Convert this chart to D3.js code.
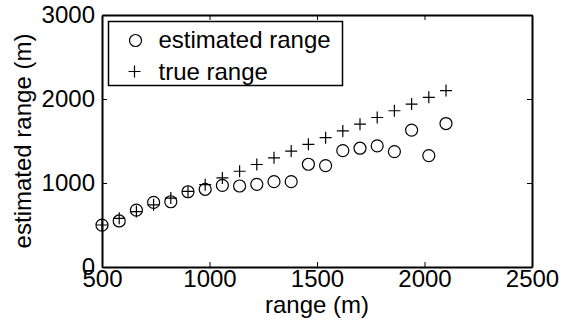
<!DOCTYPE html>
<html>
<head>
<meta charset="utf-8">
<script src="https://cdn.jsdelivr.net/npm/d3@7"></script>
<style>
  body { margin: 0; background: #fff; }
  svg { display: block; font-family: Arial, "Liberation Sans", Helvetica, sans-serif; }
  .axis path, .axis line { stroke: #000; }
</style>
</head>
<body>
<svg width="561" height="326"></svg>
<script>
// true range (m) at each measurement point, and what the estimator gave
const trueRange = [500, 580, 660, 740, 820, 900, 980, 1060, 1140, 1220, 1300,
  1380, 1460, 1540, 1620, 1700, 1780, 1860, 1940, 2020, 2100];
const estRange = [498, 548, 677, 769, 777, 896, 925, 972, 964, 984, 1016,
  1016, 1223, 1207, 1386, 1414, 1442, 1374, 1630, 1326, 1708];
const xTicks = [500, 1000, 1500, 2000, 2500];
const yTicks = [0, 1000, 2000, 3000];

const svg = d3.select("svg");
const margin = { top: 15, right: 29, bottom: 59, left: 102 };
const width = +svg.attr("width") - margin.left - margin.right;
const height = +svg.attr("height") - margin.top - margin.bottom;
const fontSize = "24px";
const fmt = d3.format("d");

const x = d3.scaleLinear().domain([500, 2500]).range([0, width]);
const y = d3.scaleLinear().domain([0, 3000]).range([height, 0]);

const g = svg.append("g").attr("transform", `translate(${margin.left},${margin.top})`);

// box with inward ticks on all four sides (matlab style)
g.append("g").attr("class", "axis")
  .attr("transform", `translate(0,${height})`)
  .call(d3.axisBottom(x).tickValues(xTicks).tickFormat(fmt).tickSizeInner(-5).tickSizeOuter(0).tickPadding(3))
  .call(a => a.selectAll("text").style("font-size", fontSize).attr("fill", "#000"));
g.append("g").attr("class", "axis")
  .call(d3.axisTop(x).tickValues(xTicks).tickSizeInner(-5).tickSizeOuter(0).tickFormat(""));
g.append("g").attr("class", "axis")
  .call(d3.axisLeft(y).tickValues(yTicks).tickFormat(fmt).tickSizeInner(-5).tickSizeOuter(0).tickPadding(7))
  .call(a => a.selectAll("text").style("font-size", fontSize).attr("fill", "#000"));
g.append("g").attr("class", "axis")
  .attr("transform", `translate(${width},0)`)
  .call(d3.axisRight(y).tickValues(yTicks).tickSizeInner(-5).tickSizeOuter(0).tickFormat(""));

g.selectAll(".axis").attr("font-family", null);
g.selectAll(".axis path").attr("stroke-width", 2);
g.selectAll(".axis line").attr("stroke-width", 1);

// true range: plus markers
g.selectAll(".true-pt")
  .data(trueRange)
  .enter()
  .append("path")
  .attr("class", "true-pt")
  .attr("transform", d => `translate(${x(d)},${y(d)})`)
  .attr("d", "M-6,0H6M0,-6V6")
  .attr("stroke", "#000")
  .attr("stroke-width", 1.2)
  .attr("fill", "none");

// estimated range: open circles
g.selectAll(".est-pt")
  .data(estRange)
  .enter()
  .append("circle")
  .attr("class", "est-pt")
  .attr("cx", (d, i) => x(trueRange[i]))
  .attr("cy", d => y(d))
  .attr("r", 6)
  .attr("fill", "none")
  .attr("stroke", "#000")
  .attr("stroke-width", 1.2);

// axis labels
svg.append("text")
  .attr("x", margin.left + width / 2)
  .attr("y", 313)
  .attr("text-anchor", "middle")
  .style("font-size", fontSize)
  .text("range (m)");

svg.append("text")
  .attr("transform", `translate(31,${margin.top + height / 2}) rotate(-90)`)
  .attr("text-anchor", "middle")
  .style("font-size", fontSize)
  .text("estimated range (m)");

// legend
const legend = svg.append("g").attr("transform", "translate(108.5,21.5)");
legend.append("rect")
  .attr("width", 234)
  .attr("height", 64)
  .attr("fill", "#fff")
  .attr("stroke", "#000")
  .attr("stroke-width", 1.5);
legend.append("circle")
  .attr("cx", 27).attr("cy", 19).attr("r", 6)
  .attr("fill", "none").attr("stroke", "#000").attr("stroke-width", 1.2);
legend.append("path")
  .attr("transform", "translate(26,50)")
  .attr("d", "M-6,0H6M0,-6V6")
  .attr("stroke", "#000").attr("stroke-width", 1.2);
legend.append("text")
  .attr("x", 50).attr("y", 26)
  .style("font-size", fontSize)
  .text("estimated range");
legend.append("text")
  .attr("x", 50).attr("y", 58)
  .style("font-size", fontSize)
  .text("true range");
</script>
</body>
</html>
